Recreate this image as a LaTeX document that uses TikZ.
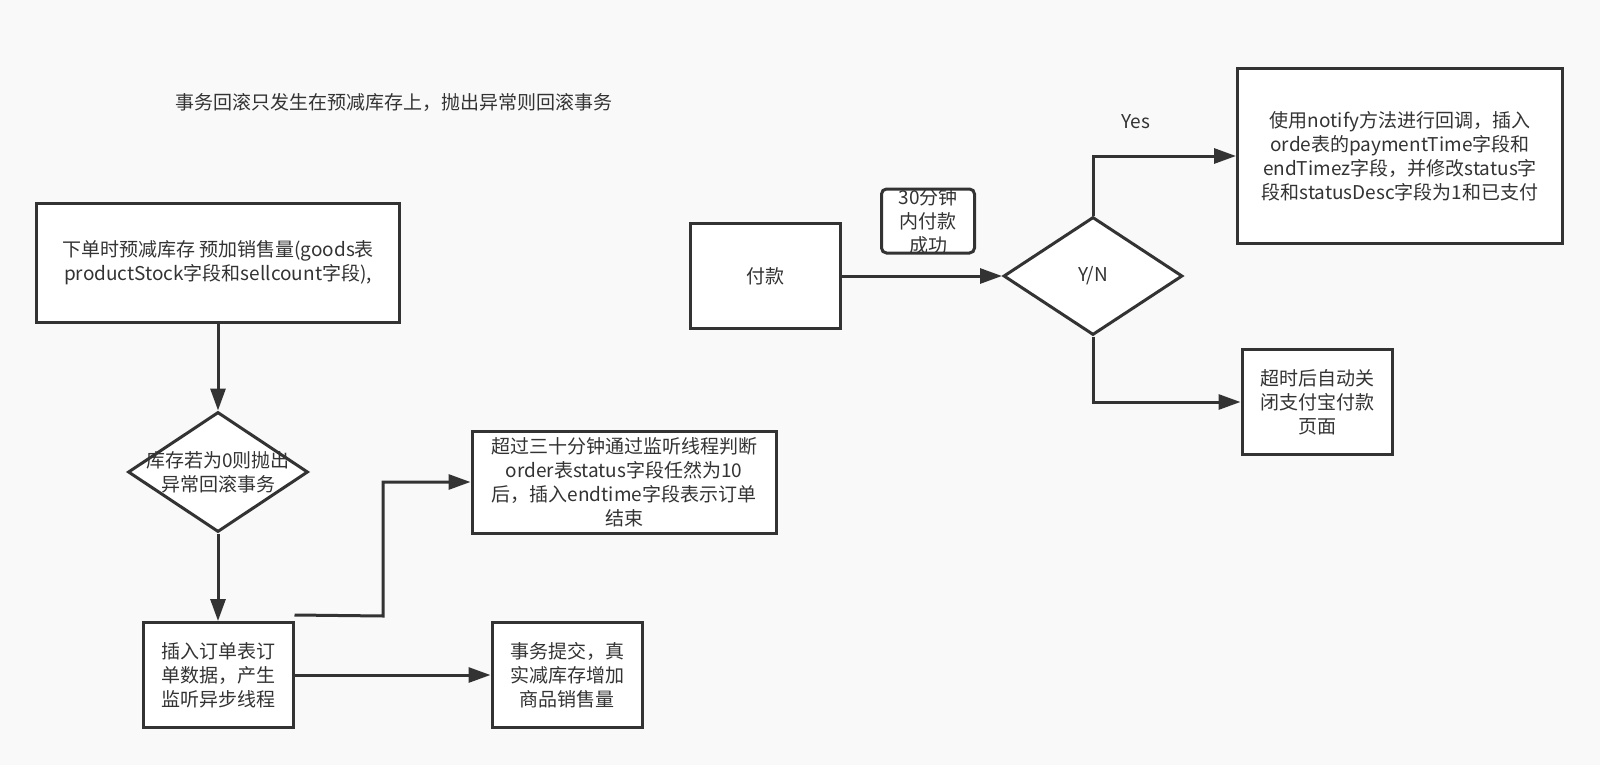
\documentclass[tikz,border=0pt]{standalone}
\usepackage{fontspec}
\setmainfont{Noto Sans CJK SC}
\usepackage{xcolor}
\usetikzlibrary{positioning, arrows.meta, shapes.geometric}
\definecolor{ink}{HTML}{333333}
\definecolor{paper}{HTML}{F9F9F9}

\begin{document}
\begin{tikzpicture}[x=1pt, y=-1pt,
    every node/.style={font=\fontsize{19}{24}\selectfont, text=ink, align=center},
    box/.style={draw=ink, line width=3pt, fill=white, minimum width=150pt, minimum height=105pt, inner sep=0pt},
    decision/.style={diamond, draw=ink, line width=3pt, fill=white, inner sep=0pt},
    flow/.style={draw=ink, line width=3pt, -{Triangle[length=22pt, width=15pt]}}
]
\fill[paper] (0,0) rectangle (1600,765);
\useasboundingbox (0,0) rectangle (1600,765);

% left part: placing the order
\node (note) at (394,102) {事务回滚只发生在预减库存上，抛出异常则回滚事务};
\node[box, minimum width=363pt, minimum height=119pt] (order) at (218,263)
    {下单时预减库存 预加销售量(goods表\\productStock字段和sellcount字段),};
\node[decision, minimum width=180pt, minimum height=120pt,
      label={center:{库存若为0则抛出\\异常回滚事务}}] (stock) at (218,472) {};
\node[box] (insert) at (218,675) {插入订单表订\\单数据，产生\\监听异步线程};
\node[box, minimum width=304pt, minimum height=102pt] (expire) at (624,482)
    {超过三十分钟通过监听线程判断\\order表status字段任然为10\\后，插入endtime字段表示订单\\结束};
\node[box] (commit) at (567,675) {事务提交，真\\实减库存增加\\商品销售量};
\coordinate (listen) at ([yshift=6pt]insert.north east);

\draw[flow] (order) -- (stock);
\draw[flow] (stock) -- (insert);
\draw[flow] (listen) -- (383,616) -- (383,482) -- (expire.west);
\draw[flow] (insert) -- (commit);

% right part: payment
\node[box] (pay) at (765,276) {付款};
\node[draw=ink, line width=3pt, fill=white, rounded corners=5pt, minimum width=93pt, minimum height=64pt,
      label={center:{30分钟\\内付款\\成功}}] (inTime) at (928,221) {};
\node[decision, minimum width=179pt, minimum height=118pt] (yn) at (1093,276) {Y/N};
\node[box, minimum width=325pt, minimum height=175pt] (notify) at (1400,156)
    {使用notify方法进行回调，插入\\orde表的paymentTime字段和\\endTimez字段，并修改status字\\段和statusDesc字段为1和已支付};
\node[box] (close) at (1317,402) {超时后自动关\\闭支付宝付款\\页面};
\node (yes) at (1136,122) {Yes};

\draw[flow] (pay) -- (yn);
\draw[flow] (yn.north) |- (notify.west);
\draw[flow] (yn.south) |- (close.west);
\end{tikzpicture}
\end{document}
